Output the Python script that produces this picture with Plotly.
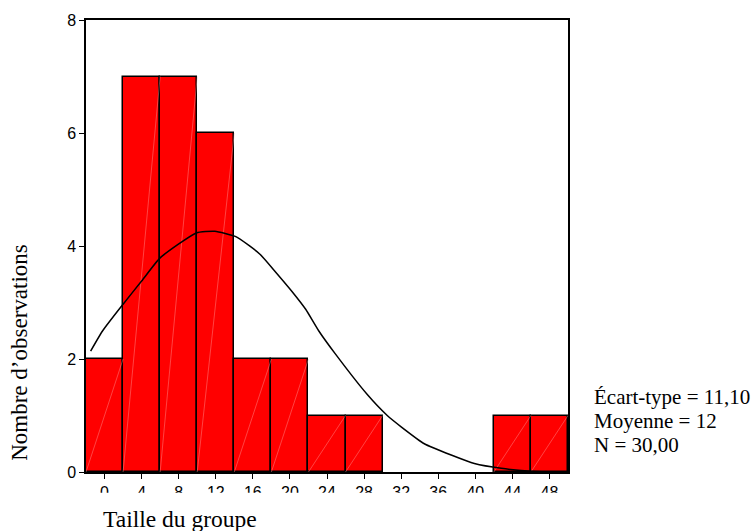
import plotly.graph_objects as go

# ---- data ----
bin_centers = [0, 4, 8, 12, 16, 20, 24, 28, 32, 36, 40, 44, 48]
counts = [2, 7, 7, 6, 2, 2, 1, 1, 0, 0, 0, 1, 1]
bin_width = 4

# fitted normal curve
curve_x = [-1.5, -0.2, 2.0, 4.0, 6.0, 9.9, 11.9, 14.1, 15.5, 16.8, 18.4, 20.2,
           21.7, 23.1, 24.9, 28.3, 30.5, 32.0, 34.5, 37.4, 39.9, 42.8, 46.4, 50.0]
curve_y = [2.14, 2.50, 2.97, 3.38, 3.79, 4.23, 4.26, 4.17, 4.02, 3.85, 3.55, 3.20,
           2.88, 2.50, 2.09, 1.38, 1.00, 0.80, 0.50, 0.30, 0.15, 0.065, 0.01, 0.005]

x_ticks = [0, 4, 8, 12, 16, 20, 24, 28, 32, 36, 40, 44, 48]
y_ticks = [0, 2, 4, 6, 8]

stats_lines = ["Écart-type = 11,10", "Moyenne = 12", "N = 30,00"]
x_title = "Taille du groupe"
y_title = "Nombre d’observations"

# ---- layout geometry ----
W, H = 754, 531
ML, MR, MT, MB = 86, 186, 17, 59
PW, PH = W - ML - MR, H - MT - MB


def px_x(p):
    return (p - ML) / PW


def px_y(p):
    return (H - MB - p) / PH


serif = "Liberation Serif, Times New Roman, serif"
sans = "Liberation Sans, Arial, sans-serif"

# only non-empty bins are drawn as bars
bx = [c for c, n in zip(bin_centers, counts) if n > 0]
by = [n for n in counts if n > 0]

fig = go.Figure()

fig.add_trace(go.Bar(
    x=bx, y=by, width=bin_width,
    marker=dict(color="#FF0000", line=dict(color="black", width=1.5)),
    hoverinfo="skip", showlegend=False,
))

# faint diagonal hatch inside each bar (bottom-left to top-right)
dx, dy = [], []
for c, n in zip(bx, by):
    dx += [c - bin_width / 2, c + bin_width / 2, None]
    dy += [0, n, None]
fig.add_trace(go.Scatter(
    x=dx, y=dy, mode="lines",
    line=dict(color="rgba(255,160,160,0.7)", width=0.6),
    hoverinfo="skip", showlegend=False,
))

fig.add_trace(go.Scatter(
    x=curve_x, y=curve_y, mode="lines",
    line=dict(color="black", width=1.5, shape="spline", smoothing=0.5),
    hoverinfo="skip", showlegend=False,
))

fig.update_layout(
    width=W, height=H,
    margin=dict(l=ML, r=MR, t=MT, b=MB, pad=0),
    paper_bgcolor="white", plot_bgcolor="white",
    bargap=0,
    showlegend=False,
    xaxis=dict(
        range=[-2, 50], tickmode="array", tickvals=x_ticks,
        ticktext=[str(t) for t in x_ticks],
        ticks="outside", ticklen=5, tickwidth=1, tickcolor="black",
        showline=True, linecolor="black", linewidth=1.5, mirror=True,
        showgrid=False, zeroline=False,
        tickfont=dict(family=sans, size=16, color="black"),
        ticklabelstandoff=0,
    ),
    yaxis=dict(
        range=[0, 8], tickmode="array", tickvals=y_ticks,
        ticktext=[str(t) for t in y_ticks],
        ticks="outside", ticklen=5, tickwidth=1, tickcolor="black",
        showline=True, linecolor="black", linewidth=1.5, mirror=True,
        showgrid=False, zeroline=False,
        tickfont=dict(family=sans, size=16, color="black"),
    ),
)

# white mask clipping the lower part of the x tick labels (as in the reference)
fig.add_shape(type="rect", xref="paper", yref="paper",
              x0=px_x(60), x1=px_x(600), y0=px_y(493), y1=px_y(506),
              fillcolor="white", line=dict(width=0), layer="above")

fig.add_annotation(text=x_title, xref="paper", yref="paper",
                   x=px_x(101), y=px_y(519), xanchor="left", yanchor="middle",
                   showarrow=False, font=dict(family=serif, size=23.5, color="black"))
fig.add_annotation(text=y_title, xref="paper", yref="paper",
                   x=px_x(20), y=px_y(352), xanchor="center", yanchor="middle",
                   textangle=-90, showarrow=False,
                   font=dict(family=serif, size=23, color="black"))
for i, line in enumerate(stats_lines):
    fig.add_annotation(text=line, xref="paper", yref="paper",
                       x=px_x(592), y=px_y(397 + 24 * i), xanchor="left", yanchor="middle",
                       showarrow=False, font=dict(family=serif, size=21, color="black"))

fig.write_html("out.html",
               config={"displayModeBar": False},
               post_script="document.body.style.margin='0';document.body.style.overflow='hidden';")
